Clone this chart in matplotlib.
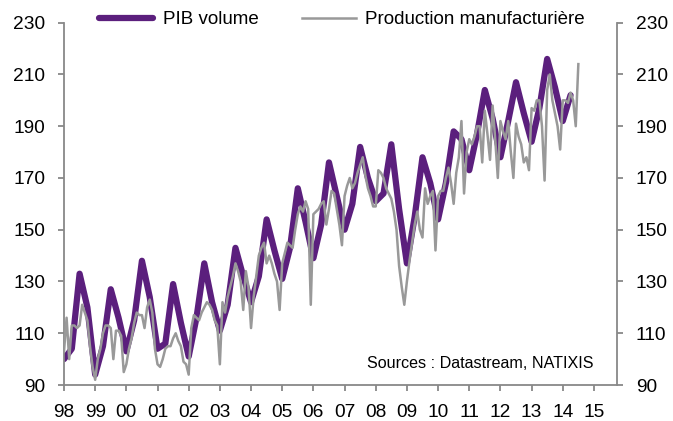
import matplotlib
matplotlib.use("Agg")
from matplotlib import pyplot as plt
import numpy as np

plt.rcParams['font.family'] = ['Liberation Sans', 'DejaVu Sans']

# PIB volume, quarterly (Q1..Q4), 1998Q1 - 2014Q2
pib = [100, 104, 133, 120,
       94, 105, 127, 116,
       103, 115, 138, 124,
       104, 106, 129, 114,
       101, 116, 137, 122,
       111, 121, 143, 132,
       122, 132, 154, 142,
       131, 143, 166, 153,
       139, 152, 176, 163,
       150, 160, 182, 170,
       161, 164, 183, 158,
       137, 155, 178, 168,
       154, 168, 188, 185,
       173, 187, 204, 193,
       178, 192, 207, 195,
       184, 197, 216, 205,
       192, 202]

# Production manufacturiere, monthly, Jan 1998 - Jul 2014
prod_by_year = [
    [103, 116, 100, 113, 113, 112, 113, 121, 118, 115, 105, 97],    # 1998
    [92, 100, 104, 110, 113, 113, 112, 100, 111, 111, 109, 95],     # 1999
    [98, 104, 108, 114, 118, 117, 117, 112, 120, 123, 118, 104],    # 2000
    [98, 97, 100, 104, 105, 105, 108, 110, 107, 105, 99, 98],       # 2001
    [94, 112, 117, 116, 115, 118, 120, 122, 121, 119, 115, 113],    # 2002
    [98, 122, 118, 124, 128, 132, 137, 134, 130, 119, 134, 128],    # 2003
    [112, 124, 132, 140, 143, 145, 137, 140, 137, 133, 130, 119],   # 2004
    [137, 141, 145, 144, 143, 150, 156, 159, 157, 161, 158, 121],   # 2005
    [156, 157, 158, 160, 161, 152, 158, 165, 164, 158, 152, 144],   # 2006
    [163, 167, 170, 166, 168, 172, 175, 178, 171, 166, 163, 159],   # 2007
    [159, 173, 172, 170, 166, 164, 162, 157, 150, 136, 128, 121],   # 2008
    [130, 138, 145, 152, 157, 150, 147, 166, 160, 163, 165, 142],   # 2009
    [163, 165, 165, 170, 174, 168, 160, 172, 178, 192, 164, 180],   # 2010
    [185, 183, 186, 190, 190, 176, 196, 187, 177, 198, 185, 170],   # 2011
    [192, 188, 185, 192, 180, 170, 191, 186, 183, 176, 178, 173],   # 2012
    [197, 196, 200, 200, 190, 169, 204, 210, 200, 195, 190, 181],   # 2013
    [200, 200, 199, 203, 200, 190, 214],                             # 2014
]
prod = [v for yr in prod_by_year for v in yr]

year_ticks = list(range(1998, 2016))
year_labels = ['98', '99', '00', '01', '02', '03', '04', '05', '06',
               '07', '08', '09', '10', '11', '12', '13', '14', '15']

x_pib = 1998 + np.arange(len(pib)) / 4.0
x_prod = 1998 + np.arange(len(prod)) / 12.0

purple = '#5B1F7D'
grey = '#999999'
axcol = '#888888'

fig = plt.figure(figsize=(6.73, 4.21), dpi=100)
ax = fig.add_axes([64 / 673, 1 - 385 / 421, (617 - 64) / 673, (385 - 22.7) / 421])

ax.plot(x_pib, pib, color=purple, lw=4.5, solid_joinstyle='round',
        solid_capstyle='round', label='PIB volume', zorder=2)
ax.plot(x_prod, prod, color=grey, lw=1.8, solid_joinstyle='round',
        label='Production manufacturière', zorder=3)

ax.set_xlim(1998, 2015.74)
ax.set_ylim(90, 230)
ax.set_yticks(range(90, 231, 20))
ax.set_xticks(year_ticks)
ax.set_xticklabels(year_labels)

ax.spines['top'].set_visible(False)
for s in ['left', 'right', 'bottom']:
    ax.spines[s].set_color(axcol)
    ax.spines[s].set_linewidth(1.3)

ax.tick_params(axis='y', which='both', left=True, right=True,
               labelleft=True, labelright=True, direction='out',
               length=4.5, width=1.3, color=axcol, pad=9,
               labelsize=13.8, labelcolor='black')
ax.tick_params(axis='x', direction='out', length=4.5, width=1.3,
               color=axcol, pad=9.5, labelsize=13.8)

ax.text(480 / 673, 1 - 363.6 / 421, 'Sources : Datastream, NATIXIS',
        transform=fig.transFigure, ha='center', va='center', fontsize=11.6)

leg = fig.legend(loc='center left', bbox_to_anchor=(99 / 673, 1 - 19.5 / 421),
                 ncol=2, frameon=False, fontsize=13.5, handlelength=2.9,
                 handletextpad=0.5, columnspacing=2.3, borderpad=0,
                 borderaxespad=0)

fig.savefig('out.png', dpi=100)
